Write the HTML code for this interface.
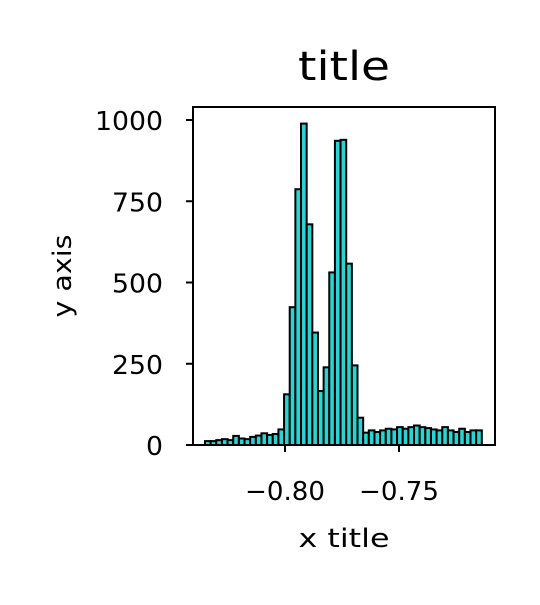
<!DOCTYPE html>
<html><head><meta charset="utf-8"><style>
body{margin:0;background:#fff;}
svg text{font-family:"DejaVu Sans","Liberation Sans",sans-serif;fill:#000;}
</style></head><body>
<svg id="chart" width="540" height="600">
<text x="344" y="80" font-size="40" text-anchor="middle" textLength="92" lengthAdjust="spacingAndGlyphs">title</text>
<text x="344" y="547" font-size="26" text-anchor="middle" textLength="91" lengthAdjust="spacingAndGlyphs">x title</text>
<text transform="translate(71,276) rotate(-90)" font-size="26" text-anchor="middle" textLength="83" lengthAdjust="spacingAndGlyphs">y axis</text>
<g id="bars"></g>
<g id="axes"></g>
<rect x="193" y="107" width="302" height="338" fill="none" stroke="#000" stroke-width="2"/>
</svg>
<script>
const binStart = -0.8351;
const binWidth = 0.002478;
const counts = [12,12,15,18,15,28,20,18,25,29,36,31,34,48,156,424,787,989,679,346,166,239,531,936,939,558,245,84,38,45,40,45,50,48,55,50,55,60,55,52,48,45,55,45,40,50,40,45,45];
const xTicks = [-0.80,-0.75];
const xTickLabels = ["\u22120.80","\u22120.75"];
const yTicks = [0,250,500,750,1000];
const yTickLabels = ["0","250","500","750","1000"];
const ns="http://www.w3.org/2000/svg";
const X = v => 285 + (v + 0.80) * 2280;
const Y = v => 445 - v * 0.325;
const bars=document.getElementById('bars');
counts.forEach((c,i)=>{
  const r=document.createElementNS(ns,'rect');
  const x0=X(binStart+i*binWidth), x1=X(binStart+(i+1)*binWidth);
  r.setAttribute('x',x0);r.setAttribute('width',x1-x0);
  r.setAttribute('y',Y(c));r.setAttribute('height',Y(0)-Y(c));
  r.setAttribute('fill','#2ad4d4');r.setAttribute('stroke','#000');r.setAttribute('stroke-width','2');
  
  
  bars.appendChild(r);
});
const axes=document.getElementById('axes');
xTicks.forEach((t,i)=>{
  const l=document.createElementNS(ns,'line');
  l.setAttribute('x1',X(t));l.setAttribute('x2',X(t));l.setAttribute('y1',445);l.setAttribute('y2',452);
  l.setAttribute('stroke','#000');l.setAttribute('stroke-width','2');
  
  
  axes.appendChild(l);
  const tx=document.createElementNS(ns,'text');
  tx.setAttribute('x',X(t));tx.setAttribute('y',500);tx.setAttribute('font-size','26');tx.setAttribute('text-anchor','middle');
  tx.setAttribute('textLength','80');tx.setAttribute('lengthAdjust','spacingAndGlyphs');
  tx.textContent=xTickLabels[i];
  
  
  axes.appendChild(tx);
});
yTicks.forEach((t,i)=>{
  const l=document.createElementNS(ns,'line');
  l.setAttribute('x1',186);l.setAttribute('x2',193);l.setAttribute('y1',Y(t));l.setAttribute('y2',Y(t));
  l.setAttribute('stroke','#000');l.setAttribute('stroke-width','2');
  
  
  axes.appendChild(l);
  const tx=document.createElementNS(ns,'text');
  tx.setAttribute('x',163);tx.setAttribute('y',Y(t)+10);tx.setAttribute('font-size','26');tx.setAttribute('text-anchor','end');
  tx.setAttribute('textLength',String(yTickLabels[i].length*17));tx.setAttribute('lengthAdjust','spacingAndGlyphs');
  tx.textContent=yTickLabels[i];
  
  
  axes.appendChild(tx);
});
</script>
</body></html>
